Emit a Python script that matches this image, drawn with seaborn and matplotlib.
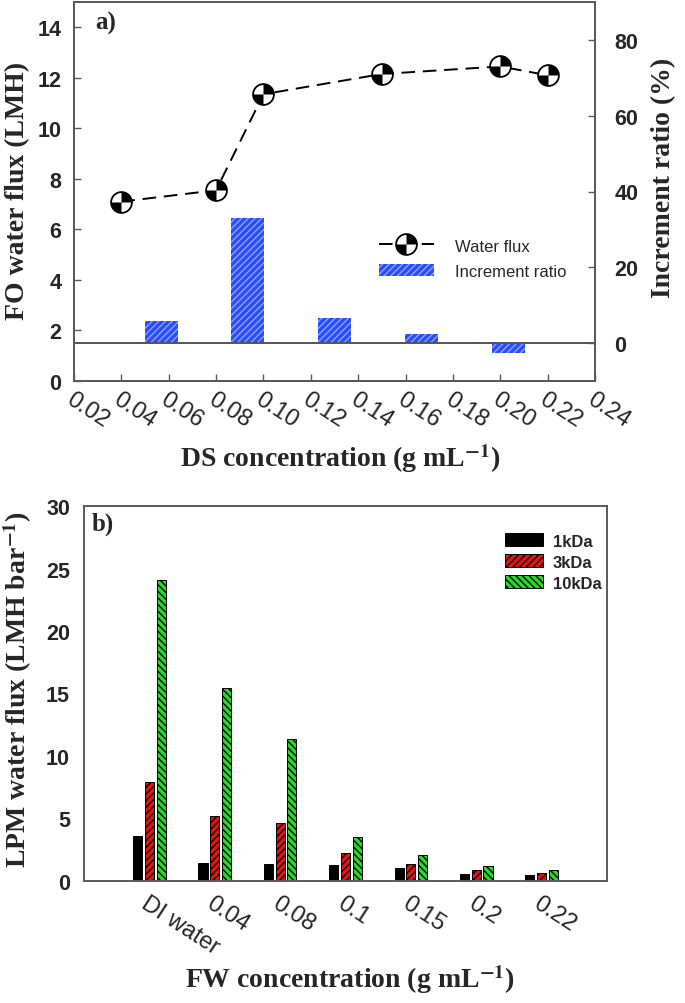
import numpy as np
import pandas as pd
import matplotlib
matplotlib.use("Agg")
import matplotlib.pyplot as plt
import seaborn as sns
from matplotlib.path import Path
from matplotlib.lines import Line2D
from matplotlib.patches import Patch
from matplotlib.legend_handler import HandlerTuple

# ---------------- data ----------------
# panel a
ds_conc = [0.04, 0.08, 0.10, 0.15, 0.20, 0.22]
water_flux = [7.1, 7.55, 11.35, 12.15, 12.45, 12.1]
inc_x = [0.0568, 0.0934, 0.1300, 0.1668, 0.2034]
inc_ratio = [5.9, 33.1, 6.5, 2.3, -2.5]
a_xticks = [0.02, 0.04, 0.06, 0.08, 0.10, 0.12, 0.14, 0.16, 0.18, 0.20, 0.22, 0.24]
a_xticklabels = ["0.02", "0.04", "0.06", "0.08", "0.10", "0.12", "0.14", "0.16",
                 "0.18", "0.20", "0.22", "0.24"]
a_yticks_left = [0, 2, 4, 6, 8, 10, 12, 14]
a_yticks_right = [0, 20, 40, 60, 80]

# panel b
fw_conc = ["DI water", "0.04", "0.08", "0.1", "0.15", "0.2", "0.22"]
lpm_1k = [3.63, 1.45, 1.34, 1.25, 1.06, 0.57, 0.46]
lpm_3k = [7.96, 5.24, 4.61, 2.21, 1.34, 0.90, 0.65]
lpm_10k = [24.05, 15.46, 11.40, 3.55, 2.05, 1.23, 0.90]
mwco = ["1kDa", "3kDa", "10kDa"]
b_yticks = [0, 5, 10, 15, 20, 25, 30]

# ---------------- style ----------------
sns.set_theme(style="ticks")
plt.rcParams["font.family"] = ["Liberation Sans", "DejaVu Sans"]
plt.rcParams["hatch.linewidth"] = 1.0
plt.rcParams["mathtext.fontset"] = "stix"
SERIF = ["Liberation Serif", "DejaVu Serif"]
SANS = ["Liberation Sans", "DejaVu Sans"]
SPINE = "#5a5a5a"
LBL = 20
XTK = 17
YTK = 15.5

W, H = 685, 1004
fig = plt.figure(figsize=(W / 100, H / 100), dpi=100)

def px_axes(l, t, r, b):
    return fig.add_axes([l / W, 1 - b / H, (r - l) / W, (b - t) / H])

# ================= panel a =================
ax1 = px_axes(74, 3, 595, 382)
ax2 = ax1.twinx()

# bars: increment ratio (right axis)
bar_df = pd.DataFrame({"x": inc_x, "y": inc_ratio})
sns.barplot(data=bar_df, x="x", y="y", ax=ax2, native_scale=True, width=0.38,
            color="#2a4cff", errorbar=None, saturation=1)
for p in ax2.patches:
    p.set_hatch("/////")
    p.set_edgecolor("#8ea3ff")
    p.set_linewidth(0)
ax2.axhline(0, color="#555555", lw=1.4, zorder=1)

# line: water flux (left axis)
quad = Path.make_compound_path(Path.wedge(0, 90), Path.wedge(180, 270))
line_df = pd.DataFrame({"c": ds_conc, "f": water_flux})
sns.lineplot(data=line_df, x="c", y="f", ax=ax1, color="black", lw=1.4,
             linestyle=(0, (7, 4)), marker="o", markersize=15,
             markerfacecolor="white", markeredgecolor="black", markeredgewidth=1.3)
ax1.plot(ds_conc, water_flux, ls="none", marker=quad, markersize=14.5,
         markerfacecolor="black", markeredgecolor="none")

ax1.set_xlim(0.02, 0.24)
ax1.set_ylim(0, 15)
ax2.set_ylim(-10, 90)
ax1.set_xticks(a_xticks)
ax1.set_xticklabels(a_xticklabels, rotation=-33, ha="left", va="top",
                    rotation_mode="anchor", fontsize=XTK, family=SANS)
ax1.set_yticks(a_yticks_left)
ax1.set_yticklabels([str(v) for v in a_yticks_left], fontsize=YTK, weight="bold", family=SANS)
ax2.set_yticks(a_yticks_right)
ax2.set_yticklabels([str(v) for v in a_yticks_right], fontsize=YTK, weight="bold", family=SANS)
ax1.set_xlabel("")
ax1.set_ylabel("")
ax2.set_xlabel("")
ax2.set_ylabel("")
ax1.tick_params(axis="both", direction="in", length=5, width=1, color=SPINE)
ax1.tick_params(axis="y", pad=9)
ax1.tick_params(axis="x", pad=5)
ax2.tick_params(axis="y", direction="in", length=5, width=1, color=SPINE, pad=14)
for ax in (ax1, ax2):
    for s in ax.spines.values():
        s.set_visible(True)
        s.set_color(SPINE)
        s.set_linewidth(1.4)

h_line = Line2D([], [], color="black", lw=1.4, linestyle=(0, (7, 4)), marker="o",
                markersize=15, markerfacecolor="white", markeredgecolor="black",
                markeredgewidth=1.3)
h_quad = Line2D([], [], ls="none", marker=quad, markersize=14.5,
                markerfacecolor="black", markeredgecolor="none")
h_bar = Patch(facecolor="#2a4cff", edgecolor="#8ea3ff", hatch="/////", linewidth=0)
ax2.legend([(h_line, h_quad), h_bar], ["Water flux", "Increment ratio"],
           handler_map={tuple: HandlerTuple(ndivide=1)}, numpoints=1,
           loc="center left", bbox_to_anchor=(0.585, 0.323), frameon=False,
           borderpad=0, borderaxespad=0,
           prop={"family": SANS, "size": 12}, handlelength=3.3,
           handleheight=0.8, handletextpad=1.3, labelspacing=0.6)

fig.text(95 / W, 1 - 23 / H, "a)", family=SERIF, weight="bold", fontsize=18,
         ha="left", va="center")
fig.text(18 / W, 1 - 191 / H, "FO water flux (LMH)", family=SERIF, weight="bold",
         fontsize=LBL, rotation=90, ha="center", va="center")
fig.text(664 / W, 1 - 178 / H, "Increment ratio (%)", family=SERIF, weight="bold",
         fontsize=LBL, rotation=90, ha="center", va="center")
fig.text(340 / W, 1 - 459 / H, "DS concentration (g mL$^{\\mathbf{-1}}$)", family=SERIF,
         weight="bold", fontsize=LBL, ha="center", va="center")

# ================= panel b =================
ax3 = px_axes(84, 507, 607, 882)
b_df = pd.DataFrame({
    "conc": fw_conc * 3,
    "flux": lpm_1k + lpm_3k + lpm_10k,
    "mwco": [mwco[0]] * len(fw_conc) + [mwco[1]] * len(fw_conc) + [mwco[2]] * len(fw_conc),
})
b_colors = {"1kDa": "#000000", "3kDa": "#e81010", "10kDa": "#22dd22"}
b_hatch = {"1kDa": "", "3kDa": "/////", "10kDa": "\\\\\\\\\\"}
sns.barplot(data=b_df, x="conc", y="flux", hue="mwco", order=fw_conc, hue_order=mwco,
            palette=b_colors, width=0.54, gap=0.22, errorbar=None, saturation=1,
            ax=ax3, legend=False)
for cont, name in zip(ax3.containers, mwco):
    for p in cont:
        p.set_hatch(b_hatch[name])
        p.set_edgecolor("black")
        p.set_linewidth(0.7)

ax3.set_xlim(-1, 7)
ax3.set_ylim(0, 30)
ax3.set_yticks(b_yticks)
ax3.set_yticklabels([str(v) for v in b_yticks], fontsize=YTK, weight="bold", family=SANS)
ax3.set_xticks(range(len(fw_conc)))
ax3.set_xticklabels(fw_conc, rotation=-33, ha="left", va="top", rotation_mode="anchor",
                    fontsize=XTK, family=SANS)
ax3.tick_params(axis="both", length=0)
ax3.tick_params(axis="y", pad=10)
ax3.tick_params(axis="x", pad=8)
ax3.set_xlabel("")
ax3.set_ylabel("")
for s in ax3.spines.values():
    s.set_visible(True)
    s.set_color(SPINE)
    s.set_linewidth(1.4)

b_handles = [Patch(facecolor=b_colors[m], edgecolor="black", hatch=b_hatch[m], linewidth=0.7)
             for m in mwco]
ax3.legend(b_handles, mwco, loc="upper left", bbox_to_anchor=(0.805, 0.927), frameon=False,
           borderpad=0, borderaxespad=0,
           prop={"family": SANS, "size": 12, "weight": "bold"}, handlelength=2.3,
           handleheight=0.8, handletextpad=0.55, labelspacing=0.35)

fig.text(92 / W, 1 - 524 / H, "b)", family=SERIF, weight="bold", fontsize=18,
         ha="left", va="center")
fig.text(18 / W, 1 - 690 / H, "LPM water flux (LMH bar$^{\\mathbf{-1}}$)", family=SERIF,
         weight="bold", fontsize=LBL, rotation=90, ha="center", va="center")
fig.text(350 / W, 1 - 980 / H, "FW concentration (g mL$^{\\mathbf{-1}}$)", family=SERIF,
         weight="bold", fontsize=LBL, ha="center", va="center")

fig.savefig("out.png", dpi=100)
